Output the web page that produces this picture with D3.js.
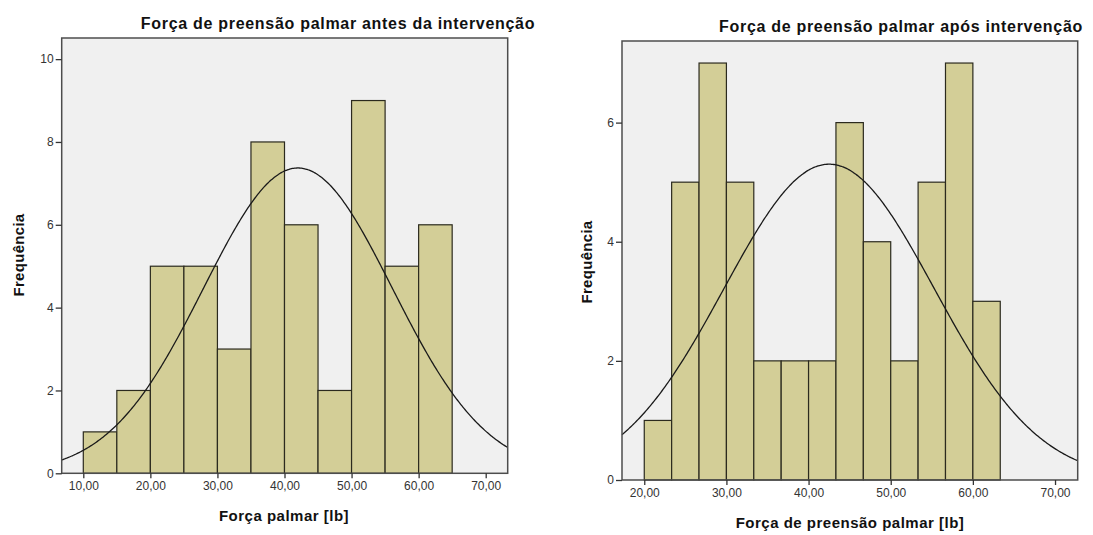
<!DOCTYPE html>
<html>
<head>
<meta charset="utf-8">
<script src="https://cdn.jsdelivr.net/npm/d3@7"></script>
<style>
  html, body { margin: 0; padding: 0; background: #fff; }
  svg { display: block; }
  text { font-family: Arial, "Liberation Sans", sans-serif; }
</style>
</head>
<body>
<svg id="chart" width="1093" height="535"></svg>
<script>
// ---- Grip strength before the intervention ----
const beforeEdges  = [10, 15, 20, 25, 30, 35, 40, 45, 50, 55, 60, 65];
const beforeCounts = [1, 2, 5, 5, 3, 8, 6, 2, 9, 5, 6];
const beforeMean = 42.0;
const beforeSD = 14.07;
const beforeXTicks = [10, 20, 30, 40, 50, 60, 70];
const beforeYTicks = [0, 2, 4, 6, 8, 10];
const beforeXDomain = [6.78, 73.28];
const beforeYMax = 10.51;

// ---- Grip strength after the intervention ----
const afterEdges  = [20, 23.333, 26.667, 30, 33.333, 36.667, 40, 43.333, 46.667, 50, 53.333, 56.667, 60, 63.333];
const afterCounts = [1, 5, 7, 5, 2, 2, 2, 6, 4, 2, 5, 7, 3];
const afterMean = 42.5;
const afterSD = 12.79;
const afterXTicks = [20, 30, 40, 50, 60, 70];
const afterYTicks = [0, 2, 4, 6];
const afterXDomain = [17.29, 72.76];
const afterYMax = 7.37;

const titles = ["Força de preensão palmar antes da intervenção", "Força de preensão palmar após intervenção"];
const xTitles = ["Força palmar [lb]", "Força de preensão palmar [lb]"];
const yTitle = "Frequência";

const fmt = v => d3.format(".2f")(v).replace(".", ",");

const svg = d3.select("#chart");

function panel(cfg) {
  const { box, edges, counts, mean, sd, xTicks, yTicks, xDomain, yMax } = cfg;
  const x = d3.scaleLinear().domain(xDomain).range([box.left, box.right]);
  const y = d3.scaleLinear().domain([0, yMax]).range([box.bottom, box.top]);
  const g = svg.append("g");

  // plot background
  g.append("rect")
    .attr("x", box.left).attr("y", box.top)
    .attr("width", box.right - box.left).attr("height", box.bottom - box.top)
    .attr("fill", "#f0f0f0");

  // histogram bars
  const bins = counts.map((c, i) => ({ x0: edges[i], x1: edges[i + 1], n: c }));
  g.selectAll("rect.bar").data(bins).join("rect")
    .attr("class", "bar")
    .attr("x", d => x(d.x0)).attr("y", d => y(d.n))
    .attr("width", d => x(d.x1) - x(d.x0)).attr("height", d => y(0) - y(d.n))
    .attr("fill", "#d3ce97").attr("stroke", "#2b2a1e").attr("stroke-width", 1.2);

  // fitted normal curve scaled to the counts
  const n = d3.sum(counts);
  const w = edges[1] - edges[0];
  const dens = v => n * w * Math.exp(-0.5 * ((v - mean) / sd) ** 2) / (sd * Math.sqrt(2 * Math.PI));
  const xs = d3.range(0, 401).map(i => xDomain[0] + (xDomain[1] - xDomain[0]) * i / 400);
  g.append("path")
    .datum(xs)
    .attr("d", d3.line().x(v => x(v)).y(v => y(dens(v))).curve(d3.curveBasis))
    .attr("fill", "none").attr("stroke", "#1a1a1a").attr("stroke-width", 1.3);

  // frame
  g.append("rect")
    .attr("x", box.left).attr("y", box.top)
    .attr("width", box.right - box.left).attr("height", box.bottom - box.top)
    .attr("fill", "none").attr("stroke", "#4d4d4d").attr("stroke-width", 1.5);

  // axes
  const xAxis = g.append("g").attr("transform", `translate(0,${box.bottom})`)
    .call(d3.axisBottom(x).tickValues(xTicks).tickFormat(fmt).tickSize(5).tickPadding(3));
  const yAxis = g.append("g").attr("transform", `translate(${box.left},0)`)
    .call(d3.axisLeft(y).tickValues(yTicks).tickFormat(d3.format("d")).tickSize(6).tickPadding(2));
  [xAxis, yAxis].forEach(a => {
    a.select(".domain").remove();
    a.selectAll("line").attr("stroke", "#333").attr("stroke-width", 1.3);
    a.selectAll("text").attr("fill", "#333").style("font-size", "12px").style("font-family", "Arial, 'Liberation Sans', sans-serif");
  });

  // titles
  g.append("text").attr("x", cfg.titleX).attr("y", cfg.titleY)
    .attr("text-anchor", "middle").attr("font-weight", "bold").attr("font-size", 16).attr("fill", "#111")
    .attr("letter-spacing", 0.7)
    .text(cfg.title);
  g.append("text").attr("x", cfg.xTitleX).attr("y", cfg.xTitleY)
    .attr("text-anchor", "middle").attr("font-weight", "bold").attr("font-size", 15).attr("fill", "#111")
    .attr("letter-spacing", 0.5)
    .text(cfg.xTitle);
  g.append("text")
    .attr("transform", `translate(${cfg.yTitleX},${cfg.yTitleY}) rotate(-90)`)
    .attr("text-anchor", "middle").attr("font-weight", "bold").attr("font-size", 15).attr("fill", "#111")
    .attr("letter-spacing", 0.3)
    .text(yTitle);
}

panel({
  box: { left: 61.7, right: 507.7, top: 38, bottom: 473.3 },
  edges: beforeEdges, counts: beforeCounts, mean: beforeMean, sd: beforeSD,
  xTicks: beforeXTicks, yTicks: beforeYTicks, xDomain: beforeXDomain, yMax: beforeYMax,
  title: titles[0], titleX: 338, titleY: 29,
  xTitle: xTitles[0], xTitleX: 284, xTitleY: 521,
  yTitleX: 24, yTitleY: 255
});

panel({
  box: { left: 622, right: 1077.7, top: 41, bottom: 480 },
  edges: afterEdges, counts: afterCounts, mean: afterMean, sd: afterSD,
  xTicks: afterXTicks, yTicks: afterYTicks, xDomain: afterXDomain, yMax: afterYMax,
  title: titles[1], titleX: 901, titleY: 32,
  xTitle: xTitles[1], xTitleX: 850, xTitleY: 528,
  yTitleX: 592, yTitleY: 262
});
</script>
</body>
</html>
